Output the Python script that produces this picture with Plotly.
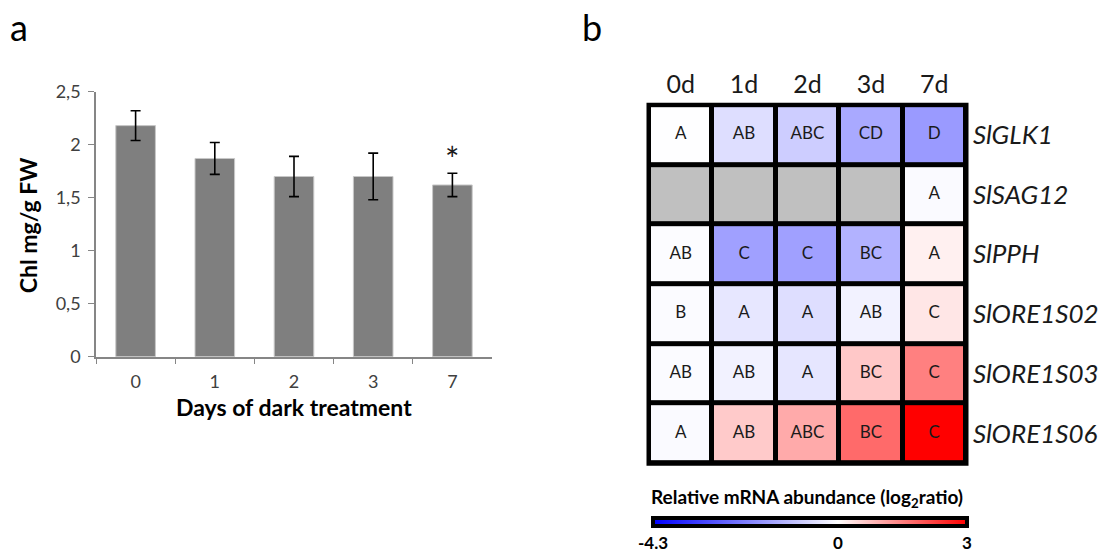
import plotly.graph_objects as go

# ---- panel a: chlorophyll content ----
days = ["0", "1", "2", "3", "7"]
chl = [2.18, 1.87, 1.70, 1.70, 1.62]
chl_err = [0.14, 0.15, 0.19, 0.22, 0.11]
chl_ticks = [0, 0.5, 1, 1.5, 2, 2.5]
chl_ticktext = ["0", "0,5", "1", "1,5", "2", "2,5"]
significant = ["7"]

# ---- panel b: relative mRNA abundance (log2 ratio) ----
timepoints = ["0d", "1d", "2d", "3d", "7d"]
genes = ["SlGLK1", "SlSAG12", "SlPPH", "SlORE1S02", "SlORE1S03", "SlORE1S06"]
log2_ratio = [
    [-0.02, -0.55, -0.85, -1.45, -1.70],
    [None, None, None, None, -0.08],
    [-0.05, -1.60, -1.60, -1.30, 0.18],
    [-0.06, -0.40, -0.55, -0.22, 0.30],
    [-0.06, -0.22, -0.42, 0.65, 1.50],
    [-0.08, 0.62, 1.00, 1.75, 3.00],
]
letters = [
    ["A", "AB", "ABC", "CD", "D"],
    [None, None, None, None, "A"],
    ["AB", "C", "C", "BC", "A"],
    ["B", "A", "A", "AB", "C"],
    ["AB", "AB", "A", "BC", "C"],
    ["A", "AB", "ABC", "BC", "C"],
]
zmin, zmax = -4.3, 3.0
cbar_ticks = [-4.3, 0, 3]
cbar_ticktext = ["-4.3", "0", "3"]

FONT = "Lato"
W, H = 1107, 552

fig = go.Figure()

fig.add_trace(go.Bar(
    x=days, y=chl,
    error_y=dict(type="data", array=chl_err, color="black", thickness=1.6, width=5),
    marker=dict(color="#7f7f7f", line=dict(color="#c8c8c8", width=1)),
    width=0.5, xaxis="x", yaxis="y", showlegend=False,
))

# significance marker above the error bar
for d in significant:
    i = days.index(d)
    fig.add_annotation(
        x=i, y=chl[i] + chl_err[i], xref="x", yref="y",
        text="*", showarrow=False, yanchor="bottom", yshift=-8,
        font=dict(family=FONT, size=34, color="#1a1a1a"),
    )

# missing measurements shown as grey cells
missing = [[1 if v is None else None for v in row] for row in log2_ratio]
fig.add_trace(go.Heatmap(
    x=timepoints, y=genes, z=missing,
    colorscale=[[0, "#c0c0c0"], [1, "#c0c0c0"]], showscale=False,
    xgap=5, ygap=5, hoverinfo="skip", xaxis="x2", yaxis="y2",
))

white_pos = (0 - zmin) / (zmax - zmin)
fig.add_trace(go.Heatmap(
    x=timepoints, y=genes, z=log2_ratio,
    colorscale=[[0, "#0000ff"], [white_pos, "#ffffff"], [1, "#ff0000"]],
    zmin=zmin, zmax=zmax,
    xgap=5, ygap=5, xaxis="x2", yaxis="y2",
    colorbar=dict(
        orientation="h", x=810 / W, xanchor="center",
        y=1 - 527 / H, yanchor="top", ypad=0, xpad=0,
        len=314 / W, lenmode="fraction", thickness=8,
        outlinewidth=4, outlinecolor="black",
        tickvals=cbar_ticks, ticktext=cbar_ticktext, ticks="",
        tickfont=dict(family=FONT, size=17, color="black", weight="bold"),
    ),
))

# statistical group letters in each measured cell
lx, ly, lt = [], [], []
for r, g in enumerate(genes):
    for c, t in enumerate(timepoints):
        if letters[r][c]:
            lx.append(t)
            ly.append(g)
            lt.append(letters[r][c])
fig.add_trace(go.Scatter(
    x=lx, y=ly, text=lt, mode="text", xaxis="x2", yaxis="y2",
    textfont=dict(family=FONT, size=17, color="#1a1a1a"),
    hoverinfo="skip", showlegend=False,
))

axis_grey = "#868686"
fig.update_layout(
    width=W, height=H,
    margin=dict(l=0, r=0, t=0, b=0),
    paper_bgcolor="white", plot_bgcolor="white",
    font=dict(family=FONT),
    xaxis=dict(
        domain=[96 / W, 492 / W], anchor="y", type="category", range=[-0.5, 4.5],
        showline=True, linecolor=axis_grey, linewidth=1.5,
        ticks="outside", tickson="boundaries", ticklen=6, tickcolor=axis_grey,
        ticklabelstandoff=8,
        tickfont=dict(family=FONT, size=18, color="#404040"),
        showgrid=False, zeroline=False,
    ),
    yaxis=dict(
        domain=[1 - 359 / H, 1 - 83 / H], anchor="x", range=[0, 2.5],
        tickvals=chl_ticks, ticktext=chl_ticktext,
        showline=True, linecolor=axis_grey, linewidth=1.5,
        ticks="outside", ticklen=6, tickcolor=axis_grey,
        ticklabelstandoff=4,
        tickfont=dict(family=FONT, size=18, color="#404040"),
        showgrid=False, zeroline=False,
    ),
    xaxis2=dict(
        domain=[649 / W, 966 / W], anchor="y2", side="top",
        type="category", range=[-0.5, 4.5],
        showgrid=False, zeroline=False, ticks="", showline=False,
        ticklabelstandoff=6,
        tickfont=dict(family=FONT, size=25, color="#1a1a1a"),
    ),
    yaxis2=dict(
        domain=[1 - 470 / H, 1 - 97 / H], anchor="x2", side="right",
        type="category", range=[5.5, -0.5],
        tickvals=genes, ticktext=[f"<i>{g}</i>" for g in genes],
        showgrid=False, zeroline=False, ticks="", showline=False,
        ticklabelstandoff=6,
        tickfont=dict(family=FONT, size=26, color="#1a1a1a"),
    ),
)

# black cell borders behind the heatmap
fig.add_shape(type="rect", xref="x2 domain", yref="y2 domain",
              x0=0, x1=1, y0=0, y1=1, layer="below",
              fillcolor="black", line=dict(color="black", width=5))

# axis titles, colour-bar caption and panel letters
fig.add_annotation(x=28 / W, y=1 - 222 / H, xref="paper", yref="paper",
                   xanchor="center", yanchor="middle",
                   text="<b>Chl mg/g FW</b>", textangle=-90, showarrow=False,
                   font=dict(family=FONT, size=23, color="black"))
fig.add_annotation(x=294 / W, y=1 - 411 / H, xref="paper", yref="paper",
                   xanchor="center", yanchor="middle",
                   text="<b>Days of dark treatment</b>", showarrow=False,
                   font=dict(family=FONT, size=23, color="black"))
fig.add_annotation(x=807 / W, y=1 - 506 / H, xref="paper", yref="paper",
                   xanchor="center", yanchor="middle",
                   text="<b>Relative mRNA abundance (log<sub>2</sub>ratio)</b>",
                   showarrow=False,
                   font=dict(family=FONT, size=19, color="black"))
for letter, px in (("a", 19), ("b", 592)):
    fig.add_annotation(x=px / W, y=1, xref="paper", yref="paper",
                       xanchor="center", yanchor="top", borderpad=0, yshift=8,
                       text=letter, showarrow=False,
                       font=dict(family=FONT, size=36, color="black"))

fig.write_html("out.html")
